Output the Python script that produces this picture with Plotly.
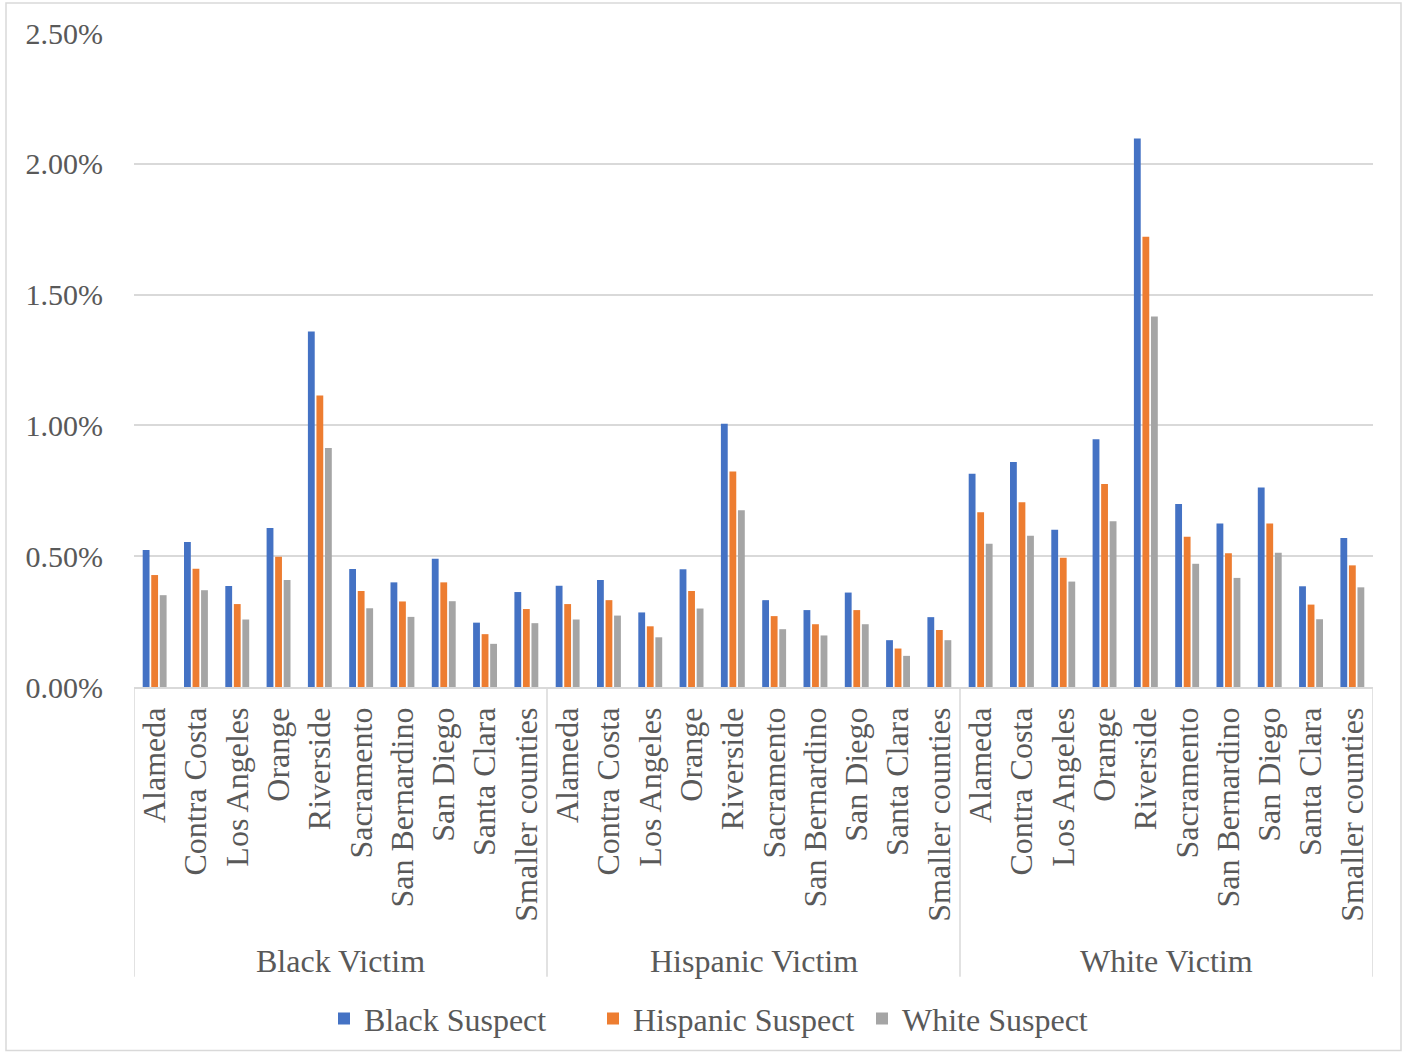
import plotly.graph_objects as go

counties = ["Alameda", "Contra Costa", "Los Angeles", "Orange", "Riverside",
            "Sacramento", "San Bernardino", "San Diego", "Santa Clara", "Smaller counties"]
groups = ["Black Victim", "Hispanic Victim", "White Victim"]
series_names = ["Black Suspect", "Hispanic Suspect", "White Suspect"]

# values in percent, per victim group (10 counties each)
black_suspect = {
    "Black Victim":    [0.524, 0.554, 0.386, 0.608, 1.359, 0.451, 0.400, 0.490, 0.246, 0.363],
    "Hispanic Victim": [0.387, 0.409, 0.285, 0.450, 1.006, 0.332, 0.294, 0.361, 0.179, 0.267],
    "White Victim":    [0.815, 0.860, 0.601, 0.947, 2.097, 0.700, 0.625, 0.763, 0.385, 0.570],
}
hispanic_suspect = {
    "Black Victim":    [0.428, 0.452, 0.317, 0.498, 1.114, 0.367, 0.327, 0.400, 0.202, 0.298],
    "Hispanic Victim": [0.317, 0.332, 0.232, 0.367, 0.824, 0.271, 0.240, 0.294, 0.147, 0.218],
    "White Victim":    [0.668, 0.706, 0.494, 0.776, 1.721, 0.574, 0.511, 0.625, 0.315, 0.465],
}
white_suspect = {
    "Black Victim":    [0.351, 0.370, 0.258, 0.409, 0.914, 0.301, 0.268, 0.328, 0.165, 0.244],
    "Hispanic Victim": [0.258, 0.273, 0.190, 0.300, 0.676, 0.221, 0.197, 0.240, 0.119, 0.179],
    "White Victim":    [0.548, 0.578, 0.403, 0.634, 1.416, 0.471, 0.417, 0.513, 0.259, 0.381],
}
colors = ["#4472C4", "#ED7D31", "#A5A5A5"]
y_ticks = [0, 0.005, 0.01, 0.015, 0.02, 0.025]

FONT = "Liberation Serif, Times New Roman, serif"
TXT = "#595959"
GRID = "#D9D9D9"

n = len(counties)
xpos = list(range(n * len(groups)))
xlabels = counties * len(groups)

fig = go.Figure()
for name, data, col in zip(series_names, [black_suspect, hispanic_suspect, white_suspect], colors):
    vals = []
    for g in groups:
        vals += [v / 100 for v in data[g]]
    fig.add_trace(go.Bar(x=xpos, y=vals, name=name, marker_color=col,
                         marker_line_width=0))

# group labels
for i, g in enumerate(groups):
    fig.add_annotation(x=i * n + (n - 1) / 2, y=-0.419, xref="x", yref="paper",
                       text=g, showarrow=False, font=dict(family=FONT, size=32, color=TXT),
                       yanchor="middle")
# dividers
for i in range(len(groups) + 1):
    fig.add_shape(type="line", x0=i * n - 0.5, x1=i * n - 0.5, y0=0, y1=-0.443,
                  xref="x", yref="paper", line=dict(color=GRID, width=1.5))
# outer border
fig.add_shape(type="rect", xref="paper", yref="paper",
              x0=(6 - 134) / 1239, x1=(1401 - 134) / 1239,
              y0=(688 - 1052) / 655, y1=(688 - 3) / 655,
              line=dict(color=GRID, width=1.5))

fig.update_layout(
    width=1406, height=1057,
    margin=dict(l=134, r=33, t=33, b=369),
    plot_bgcolor="white", paper_bgcolor="white",
    barmode="group", bargap=0.38, bargroupgap=0.2,
    font=dict(family=FONT, size=32, color=TXT),
    legend=dict(orientation="h", x=(324 - 134) / 1239, xanchor="left", y=-0.505, yanchor="middle",
                font=dict(family=FONT, size=32, color=TXT), itemwidth=30,
                entrywidth=224, entrywidthmode="pixels", tracegroupgap=0),
    showlegend=True,
)
fig.update_xaxes(range=[-0.5, n * len(groups) - 0.5], tickmode="array", tickvals=xpos,
                 ticktext=xlabels, tickangle=-90, ticks="", showgrid=False,
                 showline=True, linecolor=GRID, linewidth=1.5,
                 tickfont=dict(family=FONT, size=32, color=TXT), ticklabelstandoff=6)
fig.update_yaxes(range=[0, 0.025], tickvals=y_ticks, tickformat=".2%",
                 showgrid=True, gridcolor=GRID, gridwidth=1.5, zeroline=False,
                 showline=False, ticks="", ticklabelstandoff=30,
                 tickfont=dict(family=FONT, size=30, color=TXT))

fig.write_html("out.html")
